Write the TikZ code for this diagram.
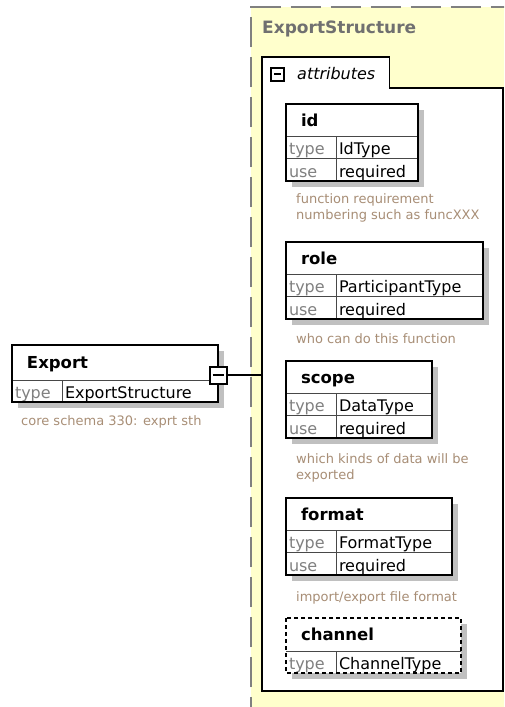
\documentclass[tikz,border=0pt]{standalone}
\usepackage{fontspec}
\setmainfont{DejaVu Sans}
\usetikzlibrary{positioning}
\definecolor{structfill}{RGB}{255,255,204}
\definecolor{dashgray}{RGB}{128,128,128}
\definecolor{titlegray}{RGB}{112,112,112}
\definecolor{lblgray}{RGB}{128,128,128}
\definecolor{notecol}{RGB}{168,142,118}
\definecolor{shadowgray}{RGB}{192,192,192}
\definecolor{rowline}{RGB}{72,72,72}

\tikzset{
  cell/.style={fill=white, anchor=north west, inner ysep=0pt, outer sep=0pt, align=left},
  hdrcell/.style={cell, draw=rowline, minimum height=32pt, inner xsep=15pt,
    font=\fontsize{16.5}{18}\selectfont\bfseries, text height=14pt, text depth=2pt},
  lblcell/.style={cell, draw=rowline, minimum height=22.5pt, inner xsep=3pt, text width=44pt,
    font=\fontsize{16}{18}\selectfont, text=lblgray, text height=15pt, text depth=0pt},
  valcell/.style={lblcell, text=black},
  boxframe/.style={draw=black, line width=1.6pt},
  togglebox/.style={draw=black, line width=2pt, fill=white, inner sep=0pt, outer sep=0pt,
    path picture={\draw[line width=1.5pt] ([xshift=3pt]path picture bounding box.west) -- ([xshift=-3pt]path picture bounding box.east);}},
  notetext/.style={anchor=north west, inner sep=0pt, align=left, text=notecol,
    font=\fontsize{13}{16}\selectfont},
}

\begin{document}
\begin{tikzpicture}[x=1pt, y=-1pt]
\useasboundingbox (0,0) rectangle (504,707);
\clip (0,0) rectangle (504,707);

% complex type
\node[fill=structfill, anchor=north west, inner sep=0pt, minimum width=270pt, minimum height=720pt] (struct) at (251,7) {};
\draw[dashgray, line width=1.5pt, dash pattern=on 30pt off 10pt] (struct.south west) -- (struct.north west) -- (struct.north east);
\node[anchor=base west, inner sep=0pt, text=titlegray, font=\fontsize{17}{20}\selectfont\bfseries] (title) at (262,33) {ExportStructure};

% attribute group
\node[draw=black, line width=1.5pt, fill=white, anchor=north west, inner sep=0pt, outer sep=0pt,
  minimum width=241pt, minimum height=603pt] (group) at (262,88) {};
\node[fill=white, anchor=north west, inner sep=0pt, minimum width=127pt, minimum height=32pt] (tab) at (262,57) {};
\draw[black, line width=1.5pt] (tab.south west) |- (tab.north east) -- (tab.south east);
\node[togglebox, minimum size=13pt] (tabtoggle) at (277.5,74) {};
\node[right=11pt of tabtoggle, inner sep=2pt, font=\fontsize{16}{18}\selectfont\itshape] (tablabel) {attributes};

\foreach \nm/\y/\w/\tp [evaluate=\w as \hw using \w-30, evaluate=\w as \vw using \w-56] in
  {id/104/132/IdType, role/242/197/ParticipantType, scope/361/146/DataType, format/498/166/FormatType}{
  \fill[shadowgray] (292,\y+6) rectangle ++(\w,77);
  \node[hdrcell, text width=\hw pt] (\nm) at (286,\y) {\nm};
  \node[lblcell] (\nm-type) at (\nm.south west) {type};
  \node[valcell, text width=\vw pt] (\nm-typev) at (\nm-type.north east) {\tp};
  \node[lblcell] (\nm-use) at (\nm-type.south west) {use};
  \node[valcell, text width=\vw pt] (\nm-usev) at (\nm-use.north east) {required};
  \draw[boxframe] (\nm.north west) rectangle (\nm-usev.south east);
}

% optional attribute
\fill[shadowgray] (292,624) rectangle ++(175,55);
\node[hdrcell, draw=none, minimum height=33pt, text width=145pt] (channel) at (286,618) {channel};
\node[lblcell, draw=none, minimum height=22pt] (channel-type) at (channel.south west) {type};
\node[valcell, draw=none, minimum height=22pt, text width=119pt] (channel-typev) at (channel-type.north east) {ChannelType};
\draw[rowline] (channel.south west) -- (channel.south east) (channel-type.north east) -- (channel-type.south east);
\draw[boxframe, dash pattern=on 4pt off 3pt] (channel.north west) rectangle (channel-typev.south east);

% annotations
\node[notetext] (id-note) at (296,193) {function requirement\\numbering such as funcXXX};
\node[notetext] (role-note) at (296,333) {who can do this function};
\node[notetext] (scope-note) at (296,453) {which kinds of data will be\\exported};
\node[notetext] (format-note) at (296,591) {import/export file format};

% element
\fill[shadowgray] (18,351) rectangle ++(206,57);
\node[hdrcell, minimum height=35pt, text width=176pt] (export) at (12,345) {Export};
\node[lblcell, minimum height=22pt] (export-type) at (export.south west) {type};
\node[valcell, minimum height=22pt, text width=150pt] (export-typev) at (export-type.north east) {ExportStructure};
\draw[boxframe] (export.north west) rectangle (export-typev.south east);
\node[notetext] (export-note) at (21,415) {core schema 330: exprt sth};
\node[togglebox, minimum size=17pt] (exptoggle) at (218,375) {};
\draw[line width=1.5pt] (exptoggle.east) -- (exptoggle.east -| group.west);
\end{tikzpicture}
\end{document}
